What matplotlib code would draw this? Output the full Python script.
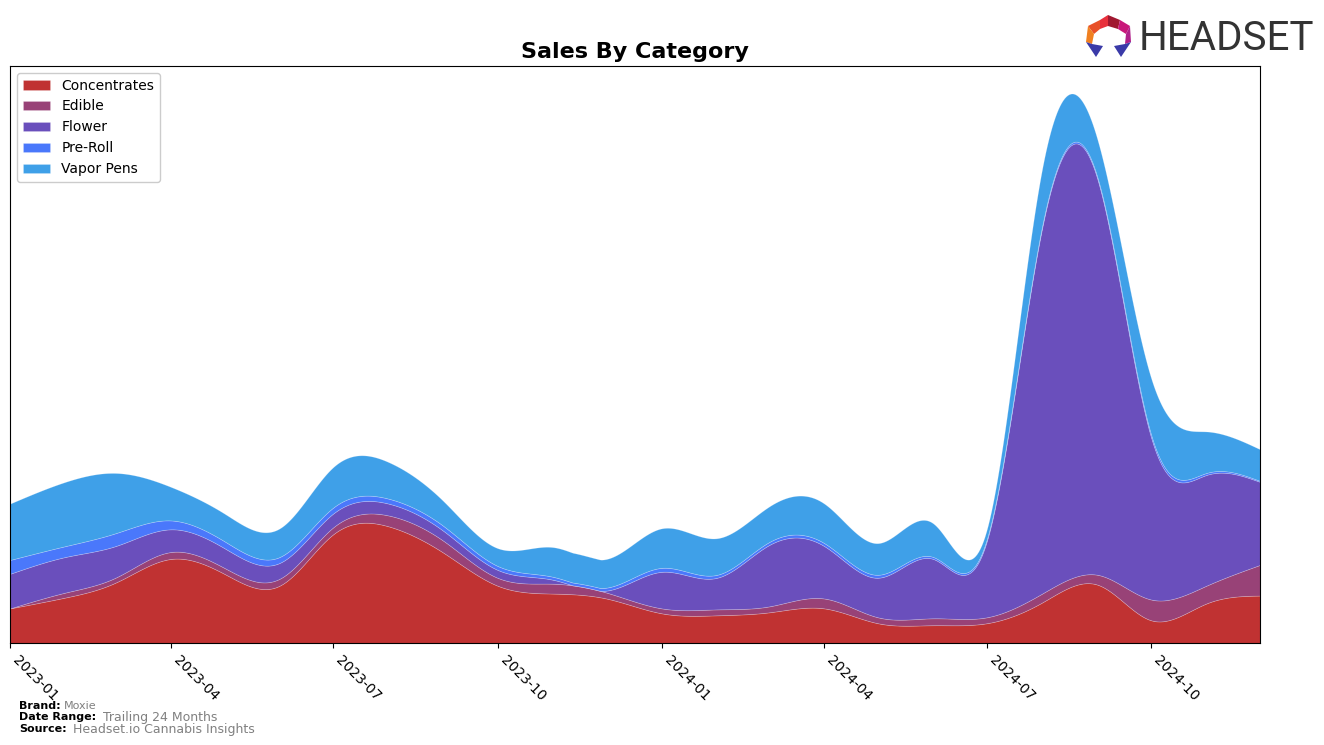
import numpy as np
import pandas as pd
import matplotlib
matplotlib.use("Agg")
import matplotlib.pyplot as plt
import matplotlib.dates as mdates
from matplotlib.patches import Polygon

# --- data (monthly) ---
months = pd.date_range("2023-01-01", "2024-12-01", freq="MS")
concentrates = [35, 46, 61, 85, 70, 58, 110, 118, 91, 58, 50, 45,
                30, 28, 31, 35, 20, 18, 20, 41, 59, 23, 40, 48]
edible = [0, 5, 5, 7, 6, 7, 7, 11, 12, 8, 10, 6,
          5, 6, 6, 10, 6, 7, 6, 9, 10, 21, 18, 31]
flower = [35, 36, 32, 23, 20, 16, 14, 12, 10, 8, 4, 2,
          37, 32, 62, 53, 40, 60, 77, 370, 400, 164, 112, 84]
pre_roll = [14, 11, 13, 9, 7, 6, 6, 5, 5, 4, 3, 3,
            4, 3, 3, 3, 3, 2, 2, 2, 2, 3, 2, 1]
vapor_pens = [57, 65, 61, 34, 28, 29, 41, 37, 25, 18, 30, 29,
              40, 37, 36, 40, 32, 34, 10, 58, 38, 57, 42, 32]

labels = ["Concentrates", "Edible", "Flower", "Pre-Roll", "Vapor Pens"]
colors = ["#c03232", "#984277", "#6a4fbc", "#4a78fb", "#3fa0e8"]


def natural_spline(x, y, xs):
    # natural cubic spline, only used to draw smooth edges
    x = np.asarray(x, float)
    y = np.asarray(y, float)
    n = len(x)
    h = np.diff(x)
    A = np.zeros((n, n))
    b = np.zeros(n)
    A[0, 0] = 1
    A[-1, -1] = 1
    for i in range(1, n - 1):
        A[i, i - 1] = h[i - 1]
        A[i, i] = 2 * (h[i - 1] + h[i])
        A[i, i + 1] = h[i]
        b[i] = 3 * ((y[i + 1] - y[i]) / h[i] - (y[i] - y[i - 1]) / h[i - 1])
    c = np.linalg.solve(A, b)
    bb = (y[1:] - y[:-1]) / h - h * (2 * c[:-1] + c[1:]) / 3
    d = (c[1:] - c[:-1]) / (3 * h)
    idx = np.clip(np.searchsorted(x, xs) - 1, 0, n - 2)
    t = xs - x[idx]
    return y[idx] + bb[idx] * t + c[idx] * t ** 2 + d[idx] * t ** 3


x = mdates.date2num(months)
xs = np.linspace(x[0], x[-1], 800)
series = [concentrates, edible, flower, pre_roll, vapor_pens]
smooth = [np.clip(natural_spline(x, s, xs), 0, None) for s in series]

fig = plt.figure(figsize=(13.24, 7.45), dpi=100)
ax = fig.add_axes([10 / 1324, 1 - 643 / 745, 1250 / 1324, 577 / 745])

ax.stackplot(mdates.num2date(xs), *smooth, labels=labels, colors=colors,
             linewidth=0.5, edgecolor=(1, 1, 1, 0.25))

ax.set_xlim(months[0], months[-1])
total = np.sum(smooth, axis=0)
ax.set_ylim(0, total.max() * 1.05)
ax.set_yticks([])
ax.xaxis.set_major_locator(mdates.MonthLocator(bymonth=[1, 4, 7, 10]))
ax.xaxis.set_major_formatter(mdates.DateFormatter("%Y-%m"))
for lab in ax.get_xticklabels():
    lab.set_rotation(-45)
    lab.set_ha("left")
ax.tick_params(axis="x", labelsize=10)

ax.set_title("Sales By Category", fontsize=16, fontweight="bold", pad=6)
ax.legend(loc="upper left", fontsize=10, framealpha=1)

# footer
fig.text(19 / 1324, 1 - 706 / 745, "Brand:", fontsize=8, fontweight="bold", va="center")
fig.text(64 / 1324, 1 - 706 / 745, "Moxie", fontsize=8, color="gray", va="center")
fig.text(19 / 1324, 1 - 717 / 745, "Date Range:", fontsize=8, fontweight="bold", va="center")
fig.text(103 / 1324, 1 - 717 / 745, "Trailing 24 Months", fontsize=9, color="gray", va="center")
fig.text(19 / 1324, 1 - 729 / 745, "Source:", fontsize=8, fontweight="bold", va="center")
fig.text(73 / 1324, 1 - 729 / 745, "Headset.io Cannabis Insights", fontsize=9, color="gray", va="center")

# logo
fig.text(1139 / 1324, 1 - 38 / 745, "HEADSET", fontsize=29, color="#333333",
         va="center", ha="left", family=["Roboto", "DejaVu Sans"])


def px(pts):
    return [(a / 1324, 1 - b / 745) for a, b in pts]


logo_parts = [
    ([(1100, 20), (1108, 15), (1108, 26), (1100, 29)], "#e8303c"),
    ([(1108, 15), (1120, 20), (1118, 29), (1108, 26)], "#a01830"),
    ([(1120, 20), (1130, 26), (1126, 34), (1118, 29)], "#c8187a"),
    ([(1100, 20), (1100, 29), (1094, 34), (1088, 26)], "#e85028"),
    ([(1088, 26), (1094, 34), (1092, 44), (1086, 42)], "#f08020"),
    ([(1130, 26), (1131, 42), (1125, 44), (1126, 34)], "#b0208a"),
    ([(1086, 42), (1092, 44), (1103, 46), (1096, 57)], "#3a3aa8"),
    ([(1131, 42), (1125, 44), (1114, 46), (1121, 57)], "#3a3aa8"),
]
for pts, col in logo_parts:
    fig.add_artist(Polygon(px(pts), closed=True, facecolor=col, edgecolor="none",
                           transform=fig.transFigure))

fig.savefig("out.png", dpi=100)
